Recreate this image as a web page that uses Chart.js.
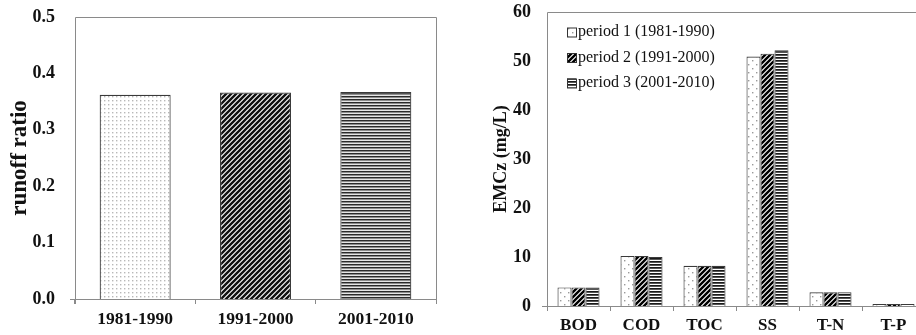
<!DOCTYPE html>
<html>
<head>
<meta charset="utf-8">
<script src="https://cdn.jsdelivr.net/npm/chart.js@4.4.1/dist/chart.umd.min.js"></script>
<style>
  html, body { margin: 0; padding: 0; background: #fff; overflow: hidden; width: 916px; height: 335px; }
  #wrapL { position: absolute; left: 0; top: 0; width: 458px; height: 335px; }
  #wrapR { position: absolute; left: 460px; top: 0; width: 470px; height: 335px; }
</style>
</head>
<body>
<div id="wrapL"><canvas id="runoff"></canvas></div>
<div id="wrapR"><canvas id="emc"></canvas></div>
<script>
// Runoff ratio per decade
const periods = ['1981-1990', '1991-2000', '2001-2010'];
const runoffRatio = [0.362, 0.366, 0.367];
const runoffTicks = [0, 0.1, 0.2, 0.3, 0.4, 0.5];

// Event mean concentration (mg/L) per pollutant and period
const pollutants = ['BOD', 'COD', 'TOC', 'SS', 'T-N', 'T-P'];
const period1 = [3.8, 10.2, 8.2, 50.9, 2.8, 0.4];
const period2 = [3.8, 10.2, 8.2, 51.5, 2.8, 0.4];
const period3 = [3.8, 10.0, 8.2, 52.2, 2.8, 0.4];
const periodLabels = ['period 1 (1981-1990)', 'period 2 (1991-2000)', 'period 3 (2001-2010)'];
const emcTicks = [0, 10, 20, 30, 40, 50, 60];

const SERIF = '"Liberation Serif", "Times New Roman", serif';
const AXIS_GRAY = '#8a8a8a';
const BAR_EDGE = '#3a3a3a';

// ---- fill patterns ----
function tile(w, h, draw) {
  const c = document.createElement('canvas');
  c.width = w; c.height = h;
  const g = c.getContext('2d');
  g.fillStyle = '#fff';
  g.fillRect(0, 0, w, h);
  draw(g, w, h);
  return document.createElement('canvas').getContext('2d').createPattern(c, 'repeat');
}
function dots(step, size, color, stagger) {
  const w = step * 2, h = step * 2;
  return tile(w, h, (g) => {
    g.fillStyle = color;
    g.fillRect(0, 0, size, size);
    if (stagger) {
      g.fillRect(step, step, size, size);
    } else {
      g.fillRect(step, 0, size, size);
      g.fillRect(0, step, size, size);
      g.fillRect(step, step, size, size);
    }
  });
}
function diagonal(p, width, color) {
  return tile(p, p, (g) => {
    g.strokeStyle = color;
    g.lineWidth = width;
    g.beginPath();
    g.moveTo(-p, 2 * p); g.lineTo(2 * p, -p);
    g.moveTo(-p, p); g.lineTo(p, -p);
    g.moveTo(0, 2 * p); g.lineTo(2 * p, 0);
    g.stroke();
  });
}
function stripes(rows) {
  return tile(4, rows.length, (g) => {
    rows.forEach((col, i) => { g.fillStyle = col; g.fillRect(0, i, 4, 1); });
  });
}

const leftFills = [
  dots(4, 1.4, '#b8b8b8', false),
  diagonal(5, 2.4, '#111'),
  stripes(['#2a2a2a', '#8c8c8c', '#e6e6e6'])
];
const rightFills = [
  dots(4, 1.4, '#9a9a9a', true),
  diagonal(5, 2.4, '#000'),
  stripes(['#1a1a1a', '#555', '#fff'])
];

// ---- plugins ----
const frameLeft = {
  id: 'frameLeft',
  afterDraw(chart) {
    const { ctx, chartArea: a } = chart;
    ctx.save();
    ctx.strokeStyle = AXIS_GRAY;
    ctx.lineWidth = 1;
    ctx.beginPath();
    ctx.moveTo(a.left + 0.5, a.bottom + 5);
    ctx.lineTo(a.left + 0.5, a.top + 0.5);
    ctx.lineTo(a.right + 0.5, a.top + 0.5);
    ctx.lineTo(a.right + 0.5, a.bottom + 0.5);
    ctx.moveTo(a.left - 5, a.bottom + 0.5);
    ctx.lineTo(a.right + 0.5, a.bottom + 0.5);
    ctx.stroke();
    ctx.restore();
  }
};

const frameRight = {
  id: 'frameRight',
  afterDraw(chart) {
    const { ctx, chartArea: a } = chart;
    ctx.save();
    ctx.strokeStyle = AXIS_GRAY;
    ctx.lineWidth = 1;
    ctx.beginPath();
    ctx.moveTo(a.left + 0.5, a.bottom + 0.5);
    ctx.lineTo(a.left + 0.5, a.top + 0.5);
    ctx.lineTo(a.right + 0.5, a.top + 0.5);
    ctx.moveTo(a.left - 5, a.bottom + 0.5);
    ctx.lineTo(a.right + 0.5, a.bottom + 0.5);
    ctx.stroke();
    ctx.restore();
  }
};

// legend drawn inside the plot area, top-left
const insideLegend = {
  id: 'insideLegend',
  afterDraw(chart) {
    const { ctx, chartArea: a } = chart;
    ctx.save();
    ctx.font = '16px ' + SERIF;
    ctx.textBaseline = 'middle';
    chart.data.datasets.forEach((ds, i) => {
      const y = a.top + 20 + i * 25.5;
      const x = a.left + 20;
      ctx.fillStyle = ds.backgroundColor;
      ctx.fillRect(x, y - 4.5, 9, 9);
      ctx.strokeStyle = '#333';
      ctx.lineWidth = 1;
      ctx.strokeRect(x + 0.5, y - 4.5 + 0.5, 9, 9);
      ctx.fillStyle = '#111';
      ctx.fillText(ds.label, x + 11, y);
    });
    ctx.restore();
  }
};

// ---- runoff ratio chart ----
new Chart(document.getElementById('runoff'), {
  type: 'bar',
  data: {
    labels: periods,
    datasets: [{
      data: runoffRatio,
      backgroundColor: leftFills,
      borderColor: BAR_EDGE,
      borderWidth: 1.2,
      barPercentage: 0.59,
      categoryPercentage: 1.0
    }]
  },
  options: {
    responsive: true,
    maintainAspectRatio: false,
    animation: false,
    layout: { padding: { left: 0, right: 22, top: 17, bottom: 0 } },
    plugins: { legend: { display: false }, tooltip: { enabled: false } },
    scales: {
      x: {
        grid: { display: true, drawOnChartArea: false, offset: true, color: AXIS_GRAY, tickLength: 5 },
        border: { display: false },
        ticks: { color: '#111', font: { family: SERIF, size: 17.5, weight: 'bold' }, padding: 5 },
        afterFit(s) { s.height = 36; }
      },
      y: {
        min: 0, max: 0.5,
        afterBuildTicks(s) { s.ticks = runoffTicks.map(v => ({ value: v })); },
        grid: { display: false, tickLength: 20 },
        border: { display: false },
        ticks: {
          color: '#111', padding: 0,
          font: { family: SERIF, size: 18, weight: 'bold' },
          callback: v => Number(v).toFixed(1)
        },
        title: {
          display: true, text: 'runoff ratio', color: '#111',
          font: { family: SERIF, size: 23, weight: 'bold' },
          padding: { top: 6, bottom: 0 }
        },
        afterFit(s) { s.width = 75; }
      }
    }
  },
  plugins: [frameLeft]
});

// ---- EMC chart ----
new Chart(document.getElementById('emc'), {
  type: 'bar',
  data: {
    labels: pollutants,
    datasets: [period1, period2, period3].map((vals, i) => ({
      label: periodLabels[i],
      data: vals,
      backgroundColor: rightFills[i],
      borderColor: BAR_EDGE,
      borderWidth: 1.1,
      barPercentage: 1.0,
      categoryPercentage: 0.667
    }))
  },
  options: {
    responsive: true,
    maintainAspectRatio: false,
    animation: false,
    layout: { padding: { left: 0, right: 5, top: 12, bottom: 0 } },
    plugins: { legend: { display: false }, tooltip: { enabled: false } },
    scales: {
      x: {
        grid: { display: true, drawOnChartArea: false, offset: true, color: AXIS_GRAY, tickLength: 5 },
        border: { display: false },
        ticks: { color: '#111', font: { family: SERIF, size: 17, weight: 'bold' }, padding: 4 },
        afterFit(s) { s.height = 29; }
      },
      y: {
        min: 0, max: 60,
        afterBuildTicks(s) { s.ticks = emcTicks.map(v => ({ value: v })); },
        grid: { display: false, tickLength: 16 },
        border: { display: false },
        ticks: { color: '#111', padding: 0, font: { family: SERIF, size: 18, weight: 'bold' } },
        title: {
          display: true, text: 'EMCz (mg/L)', color: '#111',
          font: { family: SERIF, size: 18, weight: 'bold' },
          padding: { top: 31, bottom: 0 }
        },
        afterFit(s) { s.width = 87; }
      }
    }
  },
  plugins: [frameRight, insideLegend]
});
</script>
</body>
</html>
